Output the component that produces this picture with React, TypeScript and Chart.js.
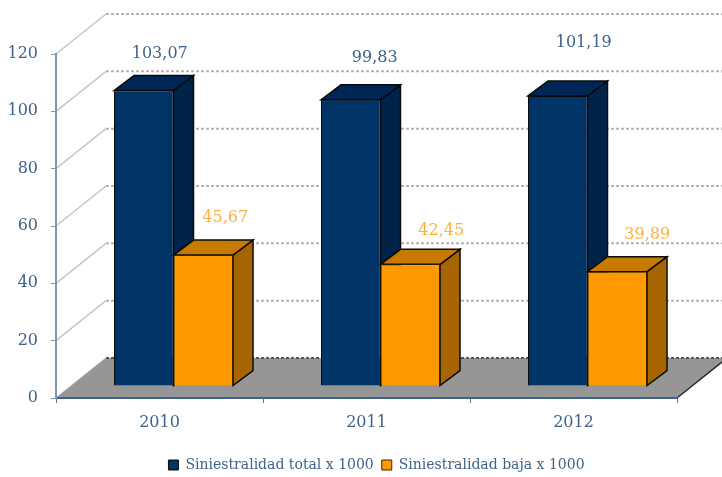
import React, { useEffect, useRef } from "react";
import { Chart, registerables } from "chart.js";

Chart.register(...registerables);

const categories = ["2010", "2011", "2012"];
const totalValues = [103.07, 99.83, 101.19];
const bajaValues = [45.67, 42.45, 39.89];
const yTicks = { min: 0, max: 120, stepSize: 20 };
const seriesNames = ["Siniestralidad total x 1000", "Siniestralidad baja x 1000"];

const TEXT = "#3f628a";
const FONT = "'DejaVu Serif'";
const WALL = { dx: 50, dy: -40 };
const FRONT = { dx: 14, dy: -12 };
const DEPTH = { dx: 20, dy: -15 };
const faces = [
  { side: "#00234a", top: "#002656", label: "#3f628a", nudge: [[16, -37], [24, -42], [26, -53]] },
  { side: "#a66500", top: "#c67a00", label: "#fbb040", nudge: [[22, -37], [31, -33], [30, -37]] },
];

const scene = {
  id: "scene3d",
  afterLayout(chart: any) {
    const lg = chart.legend;
    const shift = 38;
    const h = lg.bottom - lg.top;
    lg.left += shift;
    lg.right += shift;
    lg.top = 466 - h / 2;
    lg.bottom = lg.top + h;
  },
  beforeDatasetsDraw(chart: any) {
    const { ctx, scales } = chart;
    const { left, right, bottom } = chart.chartArea;
    const y = scales.y;
    const x0 = left + WALL.dx;
    const x1 = right + WALL.dx;

    ctx.save();
    y.ticks.forEach((t: any) => {
      const py = y.getPixelForValue(t.value);
      ctx.strokeStyle = "#c4c4c4";
      ctx.lineWidth = 1.5;
      ctx.beginPath();
      ctx.moveTo(left, py);
      ctx.lineTo(x0, py + WALL.dy);
      ctx.stroke();
    });

    ctx.fillStyle = "#969696";
    ctx.beginPath();
    ctx.moveTo(left, bottom);
    ctx.lineTo(right, bottom);
    ctx.lineTo(x1, bottom + WALL.dy);
    ctx.lineTo(x0, bottom + WALL.dy);
    ctx.closePath();
    ctx.fill();

    ctx.strokeStyle = "#2b2b2b";
    ctx.lineWidth = 1.5;
    ctx.beginPath();
    ctx.moveTo(right, bottom);
    ctx.lineTo(x1, bottom + WALL.dy);
    ctx.stroke();

    y.ticks.forEach((t: any) => {
      const py = y.getPixelForValue(t.value);
      ctx.strokeStyle = t.value === 0 ? "#555555" : "#b4b4b4";
      ctx.lineWidth = 2;
      ctx.setLineDash([3, 2]);
      ctx.beginPath();
      ctx.moveTo(x0, py + WALL.dy);
      ctx.lineTo(x1, py + WALL.dy);
      ctx.stroke();
    });
    ctx.setLineDash([]);

    ctx.translate(FRONT.dx, FRONT.dy);
    chart.data.datasets.forEach((_: any, i: number) => {
      const meta = chart.getDatasetMeta(i);
      meta.data.forEach((el: any) => {
        const l = el.x - el.width / 2;
        const r = el.x + el.width / 2;
        ctx.strokeStyle = "#0a0a0a";
        ctx.lineWidth = 1.5;
        ctx.fillStyle = faces[i].side;
        ctx.beginPath();
        ctx.moveTo(r, el.y);
        ctx.lineTo(r + DEPTH.dx, el.y + DEPTH.dy);
        ctx.lineTo(r + DEPTH.dx, el.base + DEPTH.dy);
        ctx.lineTo(r, el.base);
        ctx.closePath();
        ctx.fill();
        ctx.stroke();
        ctx.fillStyle = faces[i].top;
        ctx.beginPath();
        ctx.moveTo(l, el.y);
        ctx.lineTo(l + DEPTH.dx, el.y + DEPTH.dy);
        ctx.lineTo(r + DEPTH.dx, el.y + DEPTH.dy);
        ctx.lineTo(r, el.y);
        ctx.closePath();
        ctx.fill();
        ctx.stroke();
      });
      meta.controller.draw();
    });
    ctx.restore();

    ctx.save();
    ctx.font = `16px ${FONT}`;
    ctx.textAlign = "center";
    ctx.textBaseline = "middle";
    chart.data.datasets.forEach((ds: any, i: number) => {
      chart.getDatasetMeta(i).data.forEach((el: any, j: number) => {
        const [nx, ny] = faces[i].nudge[j];
        ctx.fillStyle = faces[i].label;
        ctx.fillText(
          ds.data[j].toFixed(2).replace(".", ","),
          el.x + FRONT.dx + nx,
          el.y + FRONT.dy + ny
        );
      });
    });
    ctx.restore();
    return false;
  },
};

export default function App() {
  const ref = useRef<HTMLCanvasElement>(null);
  useEffect(() => {
    const chart = new Chart(ref.current as HTMLCanvasElement, {
      type: "bar",
      plugins: [scene],
      data: {
        labels: categories,
        datasets: [
          {
            label: seriesNames[0],
            data: totalValues,
            backgroundColor: "#003366",
            borderColor: "#0a0a0a",
            borderWidth: 1,
            categoryPercentage: 0.575,
            barPercentage: 1,
          },
          {
            label: seriesNames[1],
            data: bajaValues,
            backgroundColor: "#ff9900",
            borderColor: "#3a2500",
            borderWidth: 1,
            categoryPercentage: 0.575,
            barPercentage: 1,
          },
        ],
      },
      options: {
        responsive: false,
        animation: false,
        layout: { padding: { top: 54, right: 45, left: 0, bottom: 0 } },
        plugins: {
          tooltip: { enabled: false },
          legend: {
            position: "bottom",
            labels: {
              color: TEXT,
              font: { family: FONT, size: 14 },
              boxWidth: 10,
              boxHeight: 10,
              padding: 8,
            },
          },
        },
        scales: {
          x: {
            afterFit(axis: any) {
              axis.height = 79 - (axis.chart.legend?.height ?? 0);
            },
            grid: { drawOnChartArea: false, drawTicks: true, tickLength: 5, color: "#5a7ba0" },
            border: { color: "#3f628a", width: 2, z: 1 },
            ticks: { color: TEXT, font: { family: FONT, size: 16 }, padding: 10 },
          },
          y: {
            min: yTicks.min,
            max: yTicks.max,
            afterFit(axis: any) {
              axis.width = 56;
            },
            grid: { drawOnChartArea: false, drawTicks: true, tickLength: 5, color: "#7f96b2" },
            border: { color: "#7f96b2", width: 2, z: 1 },
            ticks: { stepSize: yTicks.stepSize, color: TEXT, font: { family: FONT, size: 16 }, padding: 13 },
          },
        },
      },
    } as any);
    return () => chart.destroy();
  }, []);
  return (
    <canvas
      ref={ref}
      width={722}
      height={477}
      style={{ position: "absolute", left: 0, top: 0, width: 722, height: 477, filter: "blur(0.5px)" }}
    />
  );
}
